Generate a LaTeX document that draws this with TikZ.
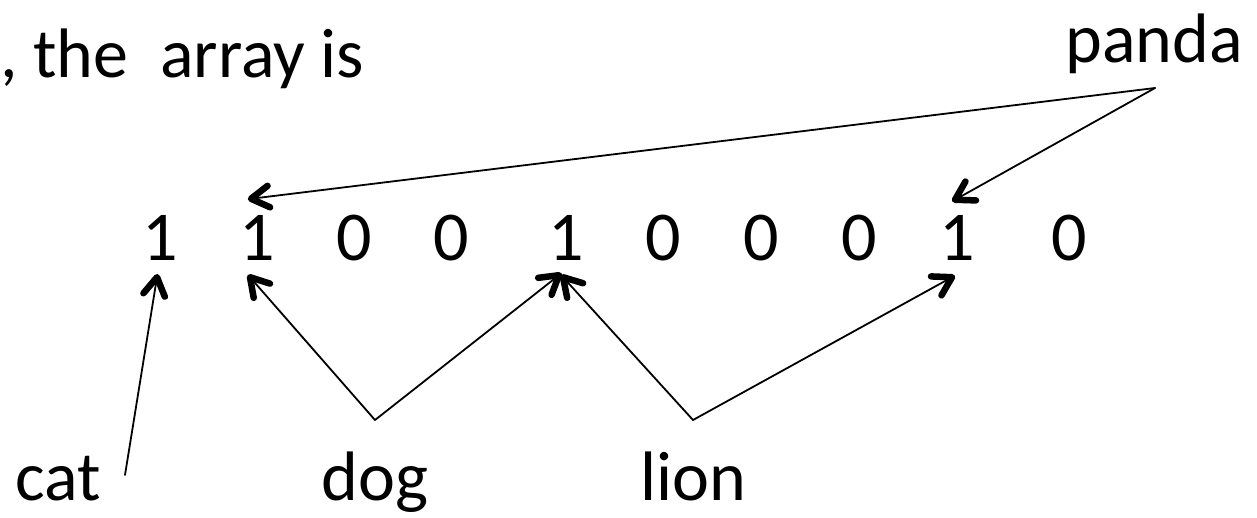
\documentclass[tikz,border=0pt]{standalone}
\usepackage{fontspec}
\setmainfont{Carlito}
\usetikzlibrary{calc}
\newcommand\barbarrow[2]{%
  \draw[shaft] (#1) -- (#2);
  \draw[barbline] ($(#2)!21pt!31:(#1)$) -- (#2) -- ($(#2)!21pt!-31:(#1)$);
}
\begin{document}
\begin{tikzpicture}[x=1pt,y=-1pt,
  lab/.style={anchor=base, inner sep=0pt, font=\fontsize{70}{84}\selectfont},
  shaft/.style={draw=black, line width=1.8pt, line cap=round},
  barbline/.style={draw=black, line width=6.5pt, line cap=round, line join=round}
]
\useasboundingbox (0,0) rectangle (1257,517);
% heading text
\node[lab, anchor=base west] (head) at (0,77) {, the \ array is};
% digits
\node[lab] (d1) at (160,260) {1};
\node[lab] (d2) at (257,260) {1};
\node[lab] (d3) at (354,260) {0};
\node[lab] (d4) at (451,260) {0};
\node[lab] (d5) at (566,260) {1};
\node[lab] (d6) at (663,260) {0};
\node[lab] (d7) at (761,260) {0};
\node[lab] (d8) at (859,260) {0};
\node[lab] (d9) at (957,260) {1};
\node[lab] (d10) at (1069,260) {0};
% labels
\node[lab] (cat) at (58,500) {cat};
\node[lab] (dog) at (375,500) {dog};
\node[lab] (lion) at (693,500) {lion};
\node[lab] (panda) at (1154,62) {panda};
% connector start points
\coordinate (catA) at (125,475);
\coordinate (dogA) at (375,420);
\coordinate (lionA) at (693,420);
\coordinate (pandaA) at (1155,88);
% arrow tips at the digits
\coordinate (t1) at ([xshift=-3pt,yshift=-17pt]d1.south);
\coordinate (t2) at ([xshift=-7pt,yshift=-17pt]d2.south);
\coordinate (t5a) at ([xshift=-7pt,yshift=-15pt]d5.south);
\coordinate (t5b) at ([xshift=-3pt,yshift=-17pt]d5.south);
\coordinate (t9) at ([xshift=-5pt,yshift=-17pt]d9.south);
\coordinate (u2) at ([xshift=-6pt,yshift=16pt]d2.north);
\coordinate (u9) at ([xshift=-2pt,yshift=15pt]d9.north);
% connectors
\barbarrow{catA}{t1}
\barbarrow{dogA}{t2}
\barbarrow{dogA}{t5a}
\barbarrow{lionA}{t5b}
\barbarrow{lionA}{t9}
\barbarrow{pandaA}{u2}
\barbarrow{pandaA}{u9}
\end{tikzpicture}
\end{document}
